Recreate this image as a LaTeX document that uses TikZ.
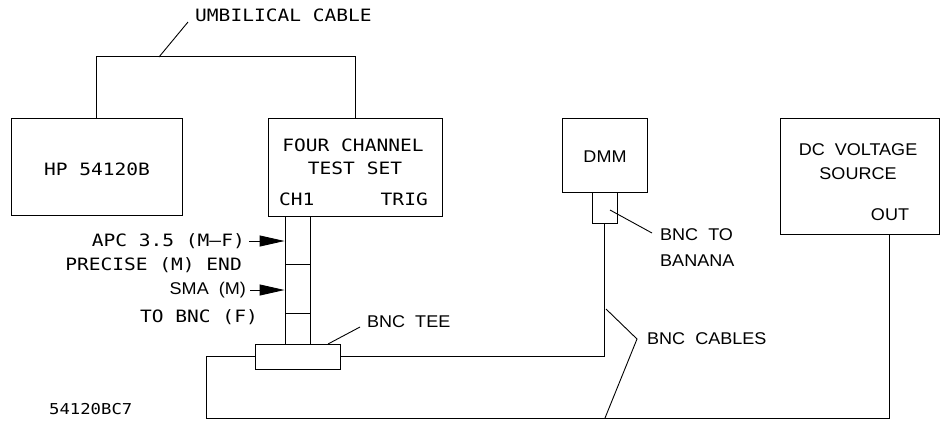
\documentclass[tikz,border=0pt]{standalone}
\usepackage{fontspec}
\usetikzlibrary{arrows.meta,calc}
\newfontfamily\plt[FakeStretch=1.15]{DejaVu Sans Mono}
\newfontfamily\hv[FakeStretch=1.06]{Liberation Sans}
\begin{document}
\begin{tikzpicture}[x=1pt,y=-1pt,
  box/.style={draw,line width=0.9pt,inner sep=0pt,minimum width=#1},
  wire/.style={line width=0.9pt},
  ptxt/.style={inner sep=0pt,font=\plt\fontsize{17}{20}\selectfont},
  htxt/.style={inner sep=0pt,font=\hv\fontsize{17}{20}\selectfont},
  harrow/.style={line width=0.9pt,-{Triangle[length=25pt,width=11pt]}}]
\useasboundingbox (0,0) rectangle (941,424);
% boxes
\node[box=171pt,minimum height=97pt] (hp) at (96.5,166.5) {};
\node[box=174pt,minimum height=98pt] (ts) at (355,167) {};
\node[box=85pt,minimum height=74pt] (dmm) at (604.5,155) {};
\node[box=159pt,minimum height=116pt] (dc) at (859.5,176) {};
\node[box=25pt,minimum height=31pt] (ban) at (604.5,207.5) {};
\node[box=25pt,minimum height=48pt] (ad1) at (297.5,240) {};
\node[box=25pt,minimum height=49pt] (ad2) at (297.5,288.5) {};
\node[box=25pt,minimum height=31pt] (ad3) at (297.5,328.5) {};
\node[box=85pt,minimum height=25pt] (tee) at (297.5,356.5) {};
% texts in boxes
\node[ptxt] (thp) at (97,169) {HP 54120B};
\node[ptxt] (t4c) at (353,145) {FOUR CHANNEL};
\node[ptxt] (tts) at (355,168) {TEST SET};
\node[ptxt,anchor=west] (tch) at (279,199) {CH1};
\node[ptxt,anchor=east] (ttr) at (428,199) {TRIG};
\node[htxt] (tdmm) at (605,157) {DMM};
\node[htxt] (tdc1) at (858,150) {DC\ \ VOLTAGE};
\node[htxt] (tdc2) at (858,174) {SOURCE};
\node[htxt] (tout) at (890,215) {OUT};
% umbilical cable
\draw[wire] (hp.north) -- ++(0,-61) -| (ts.north);
\coordinate (umbA) at (159,57);
\coordinate (umbB) at (188,22);
\draw[wire] (umbA) -- (umbB);
\node[ptxt,anchor=west] (tumb) at (195,15) {UMBILICAL CABLE};
% cables
\draw[wire] (ban.south) |- (tee.east);
\coordinate (dcout) at (889,234);
\coordinate (dcb) at (206,418);
\draw[wire] (dcout) |- (dcb) |- (tee.west);
% adapter labels
\node[ptxt,anchor=east] (tapc) at (245,241) {APC 3.5 (M–F)};
\node[ptxt,anchor=east] (tpre) at (242,265) {PRECISE (M) END};
\node[htxt,anchor=east] (tsma) at (246,290) {SMA \ (M)};
\node[ptxt,anchor=east] (tbnc) at (258,317) {TO BNC (F)};
\coordinate (a1) at (249,241);
\coordinate (a2) at (250,290);
\draw[harrow] (a1) -- (a1 -| ad1.west);
\draw[harrow] (a2) -- (a2 -| ad2.west);
% bnc tee label
\coordinate (teeA) at (328,344);
\coordinate (teeB) at (360,327);
\draw[wire] (teeA) -- (teeB);
\node[htxt,anchor=west] (ttee) at (367,322) {BNC \ TEE};
% banana label
\coordinate (banA) at (610,210);
\coordinate (banB) at (652,233);
\draw[wire] (banA) -- (banB);
\node[htxt,anchor=west] (tban1) at (660,235) {BNC \ TO};
\node[htxt,anchor=west] (tban2) at (660,261) {BANANA};
% bnc cables label
\coordinate (cA) at (606,309);
\coordinate (cB) at (637,339);
\coordinate (cC) at (605,418);
\draw[wire] (cA) -- (cB) -- (cC);
\node[htxt,anchor=west] (tcab) at (647,339) {BNC \ CABLES};
% figure id
\node[ptxt,anchor=west,font=\plt\fontsize{15}{18}\selectfont] (tid) at (49,409) {54120BC7};
\end{tikzpicture}
\end{document}
